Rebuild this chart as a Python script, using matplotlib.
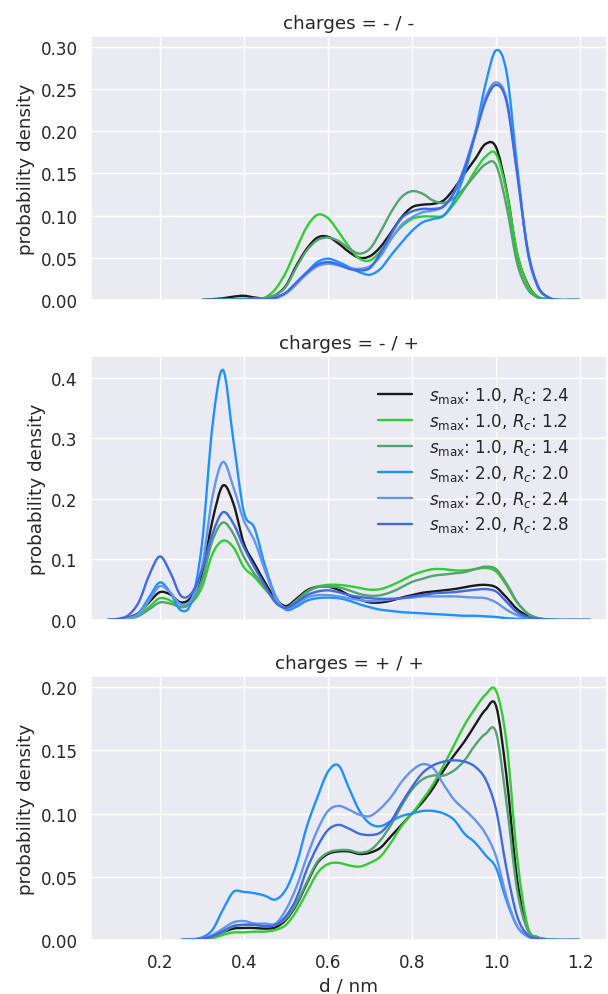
import numpy as np
import seaborn as sns
from matplotlib import pyplot as plt
from matplotlib.path import Path
from matplotlib.patches import PathPatch
from matplotlib.lines import Line2D

# sampling positions (nm) per panel
x_mm = [0.300, 0.325, 0.350, 0.375, 0.400, 0.425, 0.450, 0.475, 0.500, 0.525,
        0.550, 0.575, 0.600, 0.625, 0.650, 0.675, 0.700, 0.725, 0.750, 0.775,
        0.800, 0.825, 0.850, 0.875, 0.900, 0.925, 0.950, 0.975, 1.000, 1.025,
        1.050, 1.075, 1.100, 1.125, 1.150, 1.175, 1.200]
x_mp = [0.075, 0.100, 0.125, 0.150, 0.175, 0.200, 0.225, 0.250, 0.275, 0.300,
        0.325, 0.350, 0.375, 0.400, 0.425, 0.450, 0.475, 0.500, 0.525, 0.550,
        0.575, 0.600, 0.625, 0.650, 0.675, 0.700, 0.725, 0.750, 0.775, 0.800,
        0.825, 0.850, 0.875, 0.900, 0.925, 0.950, 0.975, 1.000, 1.025, 1.050,
        1.075, 1.100, 1.125, 1.150, 1.175, 1.200, 1.225]
x_pp = [0.250, 0.275, 0.300, 0.325, 0.350, 0.375, 0.400, 0.425, 0.450, 0.475,
        0.500, 0.525, 0.550, 0.575, 0.600, 0.625, 0.650, 0.675, 0.700, 0.725,
        0.750, 0.775, 0.800, 0.825, 0.850, 0.875, 0.900, 0.925, 0.950, 0.975,
        1.000, 1.025, 1.050, 1.075, 1.100, 1.125, 1.150, 1.175, 1.200]

# charges = - / -
mm_10_24 = [0, .001, .002, .004, .005, .003, .002, .006, .017, .041, .061, .074, .075, .067, .057, .050, .052, .063,
            .080, .098, .110, .113, .114, .118, .132, .150, .167, .185, .181, .130, .055, .019, .003, 0, 0, 0, 0]
mm_10_12 = [0, 0, 0, .0005, .001, .0015, .003, .013, .033, .061, .087, .101, .097, .081, .063, .049, .047, .058,
            .073, .087, .096, .099, .099, .100, .114, .132, .153, .170, .173, .128, .056, .018, .004, .001, 0, 0, 0]
mm_10_14 = [0, 0, .0005, .001, .0015, .0015, .002, .006, .016, .039, .059, .071, .074, .070, .061, .055, .061, .081,
            .104, .122, .129, .126, .118, .115, .121, .133, .148, .161, .160, .111, .044, .013, .003, .001, 0, 0, 0]
mm_20_20 = [0, 0, 0, 0, .0005, .0005, .001, .002, .008, .019, .033, .045, .049, .045, .039, .033, .030, .037,
            .053, .068, .082, .092, .096, .100, .118, .150, .197, .256, .296, .270, .160, .058, .015, .003, 0, 0, 0]
mm_20_24 = [0, 0, 0, 0, 0, .0005, .001, .003, .008, .019, .031, .040, .043, .041, .038, .037, .040, .052,
            .072, .089, .098, .104, .106, .111, .128, .158, .198, .240, .258, .238, .152, .060, .016, .003, 0, 0, 0]
mm_20_28 = [0, 0, 0, 0, 0, .0005, .001, .003, .009, .021, .033, .042, .045, .042, .037, .035, .038, .056,
            .078, .097, .105, .108, .108, .111, .127, .156, .195, .236, .255, .235, .150, .060, .016, .003, 0, 0, 0]

# charges = - / +
mp_10_24 = [0, .001, .004, .012, .030, .046, .042, .029, .038, .076, .164, .222, .192, .126, .093, .062, .035, .023,
            .035, .049, .055, .055, .050, .041, .034, .029, .029, .032, .037, .041, .045, .047, .049, .051, .054, .057,
            .058, .054, .037, .018, .007, .002, .0005, 0, 0, 0, 0]
mp_10_12 = [0, .0005, .002, .008, .022, .036, .032, .021, .028, .054, .109, .131, .120, .087, .071, .051, .033, .020,
            .032, .047, .055, .058, .058, .056, .053, .050, .051, .057, .065, .074, .080, .084, .084, .082, .082, .084,
            .086, .080, .057, .029, .011, .003, .001, 0, 0, 0, 0]
mp_10_14 = [0, .0005, .002, .007, .018, .029, .027, .022, .030, .065, .131, .161, .142, .104, .076, .054, .031, .020,
            .032, .046, .054, .055, .054, .049, .043, .040, .041, .046, .054, .063, .068, .073, .075, .077, .079, .084,
            .088, .084, .060, .030, .011, .003, .001, 0, 0, 0, 0]
mp_20_20 = [0, .0005, .003, .012, .038, .062, .045, .016, .030, .125, .320, .413, .296, .178, .152, .090, .040, .017,
            .022, .032, .036, .037, .036, .032, .026, .021, .017, .015, .013, .012, .011, .010, .009, .008, .007, .007,
            .006, .005, .003, .002, .001, 0, 0, 0, 0, 0, 0]
mp_20_24 = [0, .0005, .003, .010, .033, .056, .045, .026, .034, .087, .203, .261, .219, .164, .131, .082, .037, .019,
            .026, .037, .041, .041, .039, .036, .033, .031, .032, .034, .036, .037, .039, .039, .039, .039, .038, .037,
            .036, .029, .017, .008, .003, .001, 0, 0, 0, 0, 0]
mp_20_28 = [0, .002, .008, .030, .075, .105, .078, .040, .044, .082, .142, .178, .159, .120, .087, .057, .029, .020,
            .029, .041, .047, .049, .046, .041, .038, .036, .035, .035, .036, .039, .041, .044, .045, .046, .048, .050,
            .051, .047, .030, .013, .005, .002, .0005, 0, 0, 0, 0]

# charges = + / +
pp_10_24 = [0, .0005, .001, .002, .006, .009, .0095, .0095, .009, .010, .016, .028, .045, .061, .068, .070, .070,
            .068, .069, .073, .082, .091, .100, .109, .120, .134, .146, .157, .170, .182, .185, .129, .048, .009,
            .002, .0005, 0, 0, 0]
pp_10_12 = [0, 0, .0005, .0015, .004, .006, .006, .0066, .0066, .008, .012, .023, .038, .053, .060, .061, .059,
            .058, .061, .066, .077, .090, .100, .111, .123, .138, .154, .170, .183, .194, .197, .156, .066, .011,
            .002, .0005, 0, 0, 0]
pp_10_14 = [0, .0005, .001, .002, .006, .011, .012, .012, .011, .012, .017, .029, .046, .062, .069, .071, .071,
            .069, .071, .079, .091, .106, .119, .127, .130, .130, .134, .142, .154, .163, .164, .108, .040, .008,
            .002, .0005, 0, 0, 0]
pp_20_20 = [0, .0005, .002, .008, .024, .038, .038, .037, .035, .032, .040, .060, .090, .113, .133, .138, .120,
            .102, .092, .090, .094, .098, .100, .102, .102, .100, .095, .084, .077, .067, .057, .031, .011, .003,
            .001, 0, 0, 0, 0]
pp_20_24 = [0, 0, .001, .004, .009, .014, .015, .013, .013, .013, .024, .042, .066, .087, .102, .106, .103,
            .099, .098, .104, .113, .125, .134, .139, .136, .123, .111, .103, .095, .084, .066, .034, .011, .003,
            .001, 0, 0, 0, 0]
pp_20_28 = [0, 0, .001, .003, .007, .011, .012, .012, .011, .012, .019, .033, .056, .074, .087, .091, .088,
            .084, .083, .085, .094, .108, .121, .132, .138, .141, .142, .141, .137, .127, .103, .056, .019, .004,
            .001, 0, 0, 0, 0]

labels = [r'$s_{\mathrm{max}}$: 1.0, $R_c$: 2.4', r'$s_{\mathrm{max}}$: 1.0, $R_c$: 1.2',
          r'$s_{\mathrm{max}}$: 1.0, $R_c$: 1.4', r'$s_{\mathrm{max}}$: 2.0, $R_c$: 2.0',
          r'$s_{\mathrm{max}}$: 2.0, $R_c$: 2.4', r'$s_{\mathrm{max}}$: 2.0, $R_c$: 2.8']
colors = ['#1a1a1a', '#32cd32', '#52a370', '#1e90ff', '#6495ed', '#4169e1']

panels = [
    ('charges = - / -', x_mm, [mm_10_24, mm_10_12, mm_10_14, mm_20_20, mm_20_24, mm_20_28], 0.313, 0.05),
    ('charges = - / +', x_mp, [mp_10_24, mp_10_12, mp_10_14, mp_20_20, mp_20_24, mp_20_28], 0.436, 0.1),
    ('charges = + / +', x_pp, [pp_10_24, pp_10_12, pp_10_14, pp_20_20, pp_20_24, pp_20_28], 0.2087, 0.05),
]
LW = 1.7


# smooth line through the read points (Catmull-Rom drawn as cubic Bezier)
def curve_path(xs, ys):
    p = np.column_stack([xs, ys])
    ext = np.vstack([p[0], p, p[-1]])
    verts, codes = [p[0]], [Path.MOVETO]
    for i in range(len(p) - 1):
        p0, p1, p2, p3 = ext[i], ext[i + 1], ext[i + 2], ext[i + 3]
        verts += [p1 + (p2 - p0) / 6, p2 - (p3 - p1) / 6, p2]
        codes += [Path.CURVE4] * 3
    return Path(verts, codes)


sns.set_theme(style='darkgrid', font_scale=1.1)

fig = plt.figure(figsize=(6.08, 9.95), dpi=100)
bottoms = [1 - 301 / 995, 1 - 621 / 995, 1 - 941 / 995]
for i, (title, xs, curves, ytop, ystep) in enumerate(panels):
    ax = fig.add_axes([91 / 608, bottoms[i], 516 / 608, 264 / 995])
    for ys, col in zip(curves, colors):
        ax.add_patch(PathPatch(curve_path(xs, ys), fill=False, edgecolor=col,
                               lw=LW, joinstyle='round', zorder=2))
    ax.set_xlim(0.036, 1.264)
    ax.set_ylim(0, ytop)
    ax.set_yticks(np.arange(0, ytop, ystep))
    fmt = '%.1f' if ystep == 0.1 else '%.2f'
    ax.yaxis.set_major_formatter(plt.FormatStrFormatter(fmt))
    ax.set_xticks([0.2, 0.4, 0.6, 0.8, 1.0, 1.2])
    ax.set_title(title)
    ax.set_ylabel('probability density')
    if i < 2:
        ax.set_xticklabels([])
    else:
        ax.set_xlabel('d / nm')
    if i == 1:
        handles = [Line2D([], [], color=c, lw=LW) for c in colors]
        ax.legend(handles, labels, loc='upper left', bbox_to_anchor=(0.556, 0.89),
                  frameon=False, borderpad=0, borderaxespad=0,
                  labelspacing=0.35, handletextpad=1.04)

fig.savefig('out.png', dpi=100)
